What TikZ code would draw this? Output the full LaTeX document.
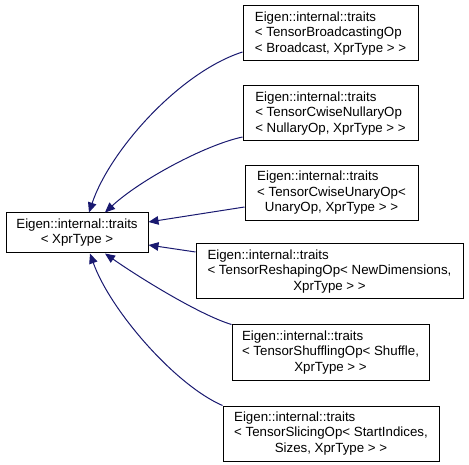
\documentclass[tikz,border=0pt]{standalone}
\usepackage{fontspec}
\setmainfont{Liberation Sans}
\usetikzlibrary{arrows.meta,calc}
\definecolor{edgeblue}{RGB}{25,25,112}
\tikzset{
  cls/.style={draw=black, line width=1pt, fill=white, inner sep=0pt,
    font=\fontsize{13.3}{15.5}\selectfont, anchor=center},
  inh/.style={draw=edgeblue, line width=1pt,
    {Triangle[length=10pt,width=8.5pt,fill=edgeblue]}-}
}
\newcommand{\lbl}[2]{\begin{tabular}{@{}l@{}}#1\\\multicolumn{1}{@{}c@{}}{#2}\end{tabular}}
\newcommand{\lblt}[3]{\begin{tabular}{@{}l@{}}#1\\#2\\\multicolumn{1}{@{}c@{}}{#3}\end{tabular}}
\begin{document}
\begin{tikzpicture}[x=1pt,y=-1pt]
\useasboundingbox (0,0) rectangle (469,465);
\node[cls, minimum width=142, minimum height=40] (L) at (77,233)
  {\lbl{Eigen::internal::traits}{< XprType >}};
\node[cls, minimum width=175, minimum height=55] (B1) at (330.5,33.5)
  {\lblt{Eigen::internal::traits}{< TensorBroadcastingOp}{< Broadcast, XprType > >}};
\node[cls, minimum width=175, minimum height=55] (B2) at (330.5,113.5)
  {\lblt{Eigen::internal::traits}{< TensorCwiseNullaryOp}{< NullaryOp, XprType > >}};
\node[cls, minimum width=173, minimum height=55] (B3) at (331.5,193)
  {\lblt{Eigen::internal::traits}{< TensorCwiseUnaryOp<}{UnaryOp, XprType > >}};
\node[cls, minimum width=267, minimum height=55] (B4) at (329.5,271.5)
  {\lblt{Eigen::internal::traits}{< TensorReshapingOp< NewDimensions,}{XprType > >}};
\node[cls, minimum width=197, minimum height=55] (B5) at (330.5,352.5)
  {\lblt{Eigen::internal::traits}{< TensorShufflingOp< Shuffle,}{XprType > >}};
\node[cls, minimum width=216, minimum height=55] (B6) at (331,433.5)
  {\lblt{Eigen::internal::traits}{< TensorSlicingOp< StartIndices,}{Sizes, XprType > >}};

\draw[inh] ([xshift=12]L.north) .. controls (110,150) and (180,72) .. ([yshift=-18.5]B1.west);
\draw[inh] ([xshift=28]L.north) .. controls (140,180) and (205,145) .. ([yshift=-23.5]B2.west);
\draw[inh] ([yshift=11]L.east) -- ([yshift=-14]B3.west);
\draw[inh] ([yshift=-12]L.east) -- ([yshift=19.5]B4.west);
\draw[inh] ([xshift=28]L.south) .. controls (140,278) and (200,315) .. (B5.north west);
\draw[inh] ([xshift=13]L.south) .. controls (110,310) and (175,385) .. (B6.north west);
\end{tikzpicture}
\end{document}
